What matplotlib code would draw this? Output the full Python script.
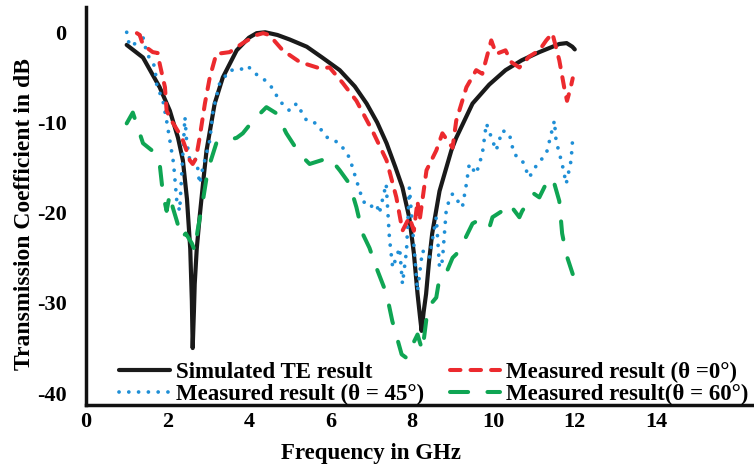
import matplotlib
matplotlib.use('agg')
import matplotlib.pyplot as plt

# simulated TE result
f_sim = [1.0, 1.4, 1.81, 2.06, 2.26, 2.38, 2.48, 2.56, 2.6, 2.62, 2.65, 2.67, 2.72, 2.79, 2.88, 2.96,
         3.16, 3.36, 3.7, 4.0, 4.19, 4.4, 4.7, 5.0, 5.42, 5.8, 6.23, 6.6, 6.89, 7.15, 7.38, 7.6, 7.77,
         7.94, 8.05, 8.14, 8.2, 8.24, 8.29, 8.35, 8.42, 8.5, 8.68, 8.97, 9.09, 9.49, 9.9, 10.3,
         10.7, 11.13, 11.62, 11.8, 11.94, 12.0]
db_sim = [-1.4, -2.8, -6.1, -8.7, -11.7, -14.2, -18.5, -24.0, -29.8, -35.0, -31.0, -27.9, -24.0,
          -20.5, -16.5, -13.1, -7.9, -5.0, -2.0, -0.6, -0.1, 0.0, -0.3, -0.8, -1.6, -2.8, -4.2,
          -6.0, -7.9, -10.0, -12.3, -15.0, -17.2, -20.6, -24.5, -29.0, -31.5, -33.1, -31.0, -29.0,
          -25.5, -22.3, -17.6, -13.1, -11.7, -7.9, -5.8, -4.2, -3.1, -2.2, -1.3, -1.2, -1.6, -1.9]

# measured, theta = 0
f_m0 = [1.25, 1.32, 1.4, 1.64, 1.76, 1.81, 1.94, 1.98, 2.1, 2.25, 2.35, 2.5, 2.55, 2.62, 2.7,
        2.79, 2.92, 3.04, 3.2, 3.53, 3.85, 4.19, 4.35, 4.5, 4.83, 5.25, 5.74, 5.98, 6.3, 6.64,
        7.03, 7.38, 7.62, 7.77, 7.94, 8.05, 8.14, 8.19, 8.36, 8.6, 8.75, 9.0, 9.09, 9.34, 9.58,
        9.73, 9.95, 10.07, 10.3, 10.44, 10.64, 10.88, 11.13, 11.3, 11.45, 11.62, 11.74, 11.81,
        11.9, 11.95]
db_m0 = [-0.1, -0.3, -1.4, -2.2, -2.3, -3.5, -6.1, -8.7, -9.8, -10.9, -11.6, -13.5, -14.2, -14.6,
         -14.0, -11.7, -7.9, -5.0, -2.4, -2.2, -1.2, -0.3, -0.1, -0.3, -2.0, -3.3, -4.0, -3.9,
         -5.6, -7.6, -10.9, -14.2, -18.3, -22.0, -20.5, -22.0, -18.7, -20.9, -15.3, -13.1, -11.2,
         -12.8, -9.8, -6.1, -4.2, -4.6, -0.9, -2.4, -2.0, -3.3, -3.9, -2.7, -2.0, -0.9, -0.1,
         -3.1, -6.1, -7.6, -6.1, -5.1]

# measured, theta = 45
f_m45 = [1.0, 1.05, 1.15, 1.37, 1.5, 1.69, 1.74, 1.89, 1.98, 2.06, 2.15, 2.23, 2.3, 2.43, 2.47,
         2.55, 2.62, 2.72, 2.79, 2.87, 3.04, 3.12, 3.28, 3.53, 3.77, 3.97, 4.1, 4.39, 4.58, 4.75,
         5.0, 5.17, 5.42, 5.66, 5.9, 6.23, 6.47, 6.64, 6.8, 6.96, 7.13, 7.2, 7.37, 7.45, 7.53,
         7.7, 7.77, 7.87, 7.94, 8.14, 8.26, 8.43, 8.6, 8.68, 8.75, 8.85, 9.0, 9.24, 9.34, 9.41,
         9.58, 9.73, 9.83, 9.98, 10.07, 10.22, 10.39, 10.51, 10.71, 10.88, 11.08, 11.3, 11.5,
         11.54, 11.69, 11.79, 11.91, 11.95]
db_m45 = [0.0, -1.1, -1.6, 0.0, -2.4, -3.8, -5.9, -7.6, -9.8, -12.0, -14.5, -18.7, -19.8, -9.4,
          -12.0, -14.2, -13.9, -14.2, -16.8, -15.0, -12.0, -8.7, -5.7, -4.2, -4.2, -3.7, -4.4,
          -5.3, -6.2, -7.6, -8.7, -7.9, -9.8, -10.1, -11.6, -12.3, -13.9, -16.4, -18.7, -19.4,
          -19.0, -20.1, -16.8, -22.8, -26.1, -23.9, -27.9, -24.2, -17.2, -28.7, -24.2, -25.0,
          -20.5, -26.1, -25.3, -19.4, -17.9, -19.4, -16.8, -14.6, -15.7, -13.5, -10.1, -12.0,
          -13.1, -10.9, -11.2, -13.5, -14.2, -16.1, -14.6, -13.5, -9.8, -12.0, -14.6, -16.8,
          -14.2, -11.7]

# measured, theta = 60
f_m60 = [1.0, 1.15, 1.32, 1.4, 1.62, 1.69, 1.81, 1.89, 1.98, 2.06, 2.13, 2.23, 2.35, 2.45, 2.6,
         2.67, 2.74, 2.87, 2.99, 3.2, 3.45, 3.7, 3.85, 4.1, 4.43, 4.68, 4.92, 5.25, 5.49, 5.98,
         6.23, 6.47, 6.64, 6.79, 6.96, 7.13, 7.38, 7.52, 7.75, 7.87, 8.02, 8.14, 8.26, 8.36,
         8.47, 8.6, 8.68, 8.87, 9.0, 9.09, 9.24, 9.49, 9.61, 9.9, 9.98, 10.22, 10.39, 10.64,
         10.71, 11.0, 11.13, 11.37, 11.5, 11.62, 11.69, 11.79, 11.95]
db_m60 = [-10.1, -8.9, -11.2, -12.3, -13.1, -13.9, -14.6, -17.9, -19.8, -17.9, -19.4, -20.9,
          -22.8, -22.3, -23.4, -24.2, -22.0, -18.7, -15.3, -12.3, -12.0, -11.7, -11.2, -9.8,
          -8.3, -9.0, -11.2, -13.5, -14.6, -13.9, -15.3, -16.8, -19.4, -22.3, -23.9, -26.1,
          -29.0, -32.0, -35.7, -36.1, -34.6, -33.5, -35.3, -31.7, -30.1, -29.4, -27.2, -26.4,
          -25.0, -24.6, -23.5, -21.2, -20.9, -21.7, -20.5, -19.8, -19.0, -20.5, -19.8, -17.9,
          -18.3, -16.1, -16.8, -18.7, -22.3, -24.6, -26.8]

x_ticks = [0, 2, 4, 6, 8, 10, 12, 14]
y_ticks = [0, -10, -20, -30, -40]

plt.rcParams['font.family'] = ['Liberation Serif', 'DejaVu Serif']
plt.rcParams['font.weight'] = 'bold'
plt.rcParams['axes.unicode_minus'] = False

fig = plt.figure(figsize=(7.54, 4.67), dpi=100)
ax = fig.add_axes([0.114, 0.133, 0.886, 0.852])

ax.plot(f_sim, db_sim, color='#1a1a1a', lw=3.0, solid_capstyle='round', solid_joinstyle='round',
        label='Simulated TE result')
ax.plot(f_m45, db_m45, color='#1f8fd6', lw=2.7, linestyle=(0, (0.01, 2.6)), dash_capstyle='round',
        label='Measured result (θ = 45°)')
ax.plot(f_m0, db_m0, color='#ec2a2e', lw=2.9, linestyle=(0, (2.6, 2.5)), dash_capstyle='round',
        label='Measured result (θ =0°)')
ax.plot(f_m60, db_m60, color='#0fa553', lw=2.9, linestyle=(0, (4.5, 4.8)), dash_capstyle='round',
        label='Measured result(θ = 60°)')

ax.set_xlim(0, 16.4)
ax.set_ylim(-41.3, 2.8)
ax.set_xticks(x_ticks)
ax.set_yticks(y_ticks)
ax.tick_params(length=0, labelsize=16)
ax.tick_params(axis='y', pad=14)
ax.tick_params(axis='x', pad=5)
for s in ['top', 'right']:
    ax.spines[s].set_visible(False)
for s in ['left', 'bottom']:
    ax.spines[s].set_linewidth(2.5)
    ax.spines[s].set_color('#111111')

ax.set_xlabel('Frequency in GHz', fontsize=16.5, fontweight='bold', labelpad=8)
ax.xaxis.set_label_coords(0.427, -0.095)
ax.set_ylabel('Transmission Coefficient in dB', fontsize=17, fontweight='bold')
ax.yaxis.set_label_coords(-0.077, 0.48)

ax.legend(ncol=2, loc='lower left', bbox_to_anchor=(0.05, 0.0), frameon=False, fontsize=16.5,
          handlelength=2.2, handletextpad=0.28, columnspacing=1.1, labelspacing=0.05,
          borderaxespad=0, borderpad=0)

plt.savefig('out.png', dpi=100)
plt.close()
